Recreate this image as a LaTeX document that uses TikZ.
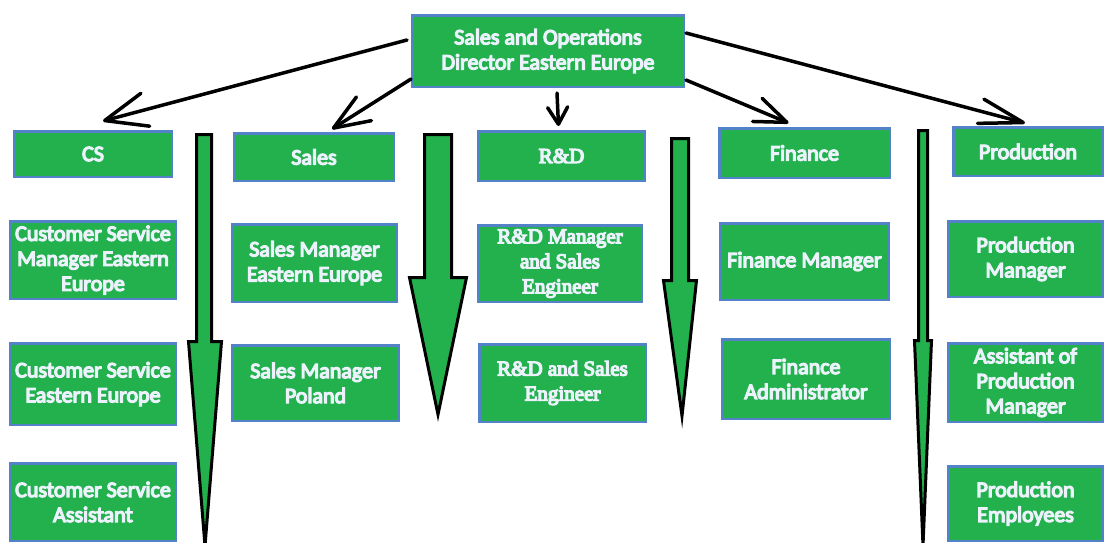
\documentclass[tikz,border=0pt]{standalone}
\usepackage{fontspec}
\setmainfont{Carlito}
\newfontfamily\rdfont{Liberation Serif}
\usetikzlibrary{arrows.meta,calc}
\definecolor{boxgreen}{RGB}{34,177,76}
\definecolor{boxblue}{RGB}{84,130,200}
\definecolor{txt}{RGB}{236,242,252}
\tikzset{
  box/.style={draw=boxblue, line width=2.5pt, fill=boxgreen, text=txt, align=center,
    inner sep=0pt, font=\fontsize{22}{25}\selectfont,
    execute at begin node={\special{pdf:literal direct 2 Tr 1.3 w 0.36 0.54 0.80 RG}},
    execute at end node={\special{pdf:literal direct 0 Tr}}},
  rdbox/.style={box, font=\rdfont\fontsize{21}{25}\selectfont},
  link/.style={draw=black, line width=3.5pt, line cap=round, line join=round},
  blockarrow/.style={fill=boxgreen, draw=black, line width=3pt, line join=miter}
}
\begin{document}
\begin{tikzpicture}[x=1pt,y=-1pt]
\useasboundingbox (0,0) rectangle (1106,542);
% block arrows
\draw[blockarrow] (196.5,134.5) -- (211.5,134.5) -- (211.5,341.5) -- (221.5,341.5) -- (205,546) -- (188.5,341.5) -- (196.5,341.5) -- cycle;
\draw[blockarrow] (424.5,134.5) -- (451.5,134.5) -- (451.5,277.5) -- (466.5,277.5) -- (438,414.5) -- (409.5,277.5) -- (424.5,277.5) -- cycle;
\draw[blockarrow] (671.5,138.5) -- (688.5,138.5) -- (688.5,280.5) -- (696.5,280.5) -- (682,416) -- (663.5,280.5) -- (671.5,280.5) -- cycle;
\draw[blockarrow] (918.5,130.5) -- (927.5,130.5) -- (927.5,340.5) -- (931.5,340.5) -- (923,546) -- (914.5,340.5) -- (918.5,340.5) -- cycle;
% boxes
\node[box, minimum width=271.5pt, minimum height=71.5pt] (top) at (548,51) {Sales and Operations\\Director Eastern Europe};
\node[box, minimum width=157.5pt, minimum height=45.5pt] (cs) at (93,154) {CS};
\node[box, minimum width=165.5pt, minimum height=77.5pt] (csm) at (93,260) {Customer Service\\Manager Eastern\\Europe};
\node[box, minimum width=165.5pt, minimum height=81.5pt] (cse) at (93,384) {Customer Service\\Eastern Europe};
\node[box, minimum width=165.5pt, minimum height=77.5pt] (csa) at (93,502) {Customer Service\\Assistant};
\node[box, minimum width=159.5pt, minimum height=47.5pt] (sales) at (314,157) {Sales};
\node[box, minimum width=164.5pt, minimum height=77.5pt] (smee) at (314.5,263) {Sales Manager\\Eastern Europe};
\node[box, minimum width=166.5pt, minimum height=75.5pt] (smp) at (315.5,383) {Sales Manager\\Poland};
\node[rdbox, minimum width=166.5pt, minimum height=49.5pt] (rd) at (561.5,156) {R\&D};
\node[rdbox, minimum width=163.5pt, minimum height=76.5pt] (rdm) at (560,263.5) {R\&D Manager\\and Sales\\Engineer};
\node[rdbox, minimum width=166.5pt, minimum height=77.5pt] (rdse) at (562.5,383) {R\&D and Sales\\Engineer};
\node[box, minimum width=170.5pt, minimum height=49.5pt] (fin) at (804.5,153) {Finance};
\node[box, minimum width=168.5pt, minimum height=76.5pt] (finm) at (804.5,261.5) {Finance Manager};
\node[box, minimum width=167.5pt, minimum height=79.5pt] (fina) at (806,379) {Finance\\Administrator};
\node[box, minimum width=149.5pt, minimum height=48.5pt] (prod) at (1028,151.5) {Production};
\node[box, minimum width=154.5pt, minimum height=75.5pt] (prodm) at (1025.5,259) {Production\\Manager};
\node[box, minimum width=154.5pt, minimum height=78.5pt] (apm) at (1025.5,382.5) {Assistant of\\Production\\Manager};
\node[box, minimum width=154.5pt, minimum height=74.5pt] (pe) at (1025.5,503.5) {Production\\Employees};
% connectors
\draw[link, -{Straight Barb[length=42pt,width=34pt,round]}] ($(top.west)+(-4,-11)$) -- ($(cs.north)+(10,-9)$);
\draw[link, -{Straight Barb[length=36pt,width=28pt,round]}] ($(top.west)+(0,28)$) -- ($(sales.north)+(18,-3)$);
\draw[link, -{Straight Barb[length=17pt,width=20pt,round]}] ($(top.south)+(9,5)$) -- ($(rd.north)+(-3,-4)$);
\draw[link, -{Straight Barb[length=32pt,width=25pt,round]}] ($(top.east)+(1,29)$) -- ($(fin.north)+(-16,-4)$);
\draw[link, -{Straight Barb[length=44pt,width=25pt,round]}] ($(top.east)+(1,-18)$) -- ($(prod.north)+(-3,-3)$);
\end{tikzpicture}
\end{document}
